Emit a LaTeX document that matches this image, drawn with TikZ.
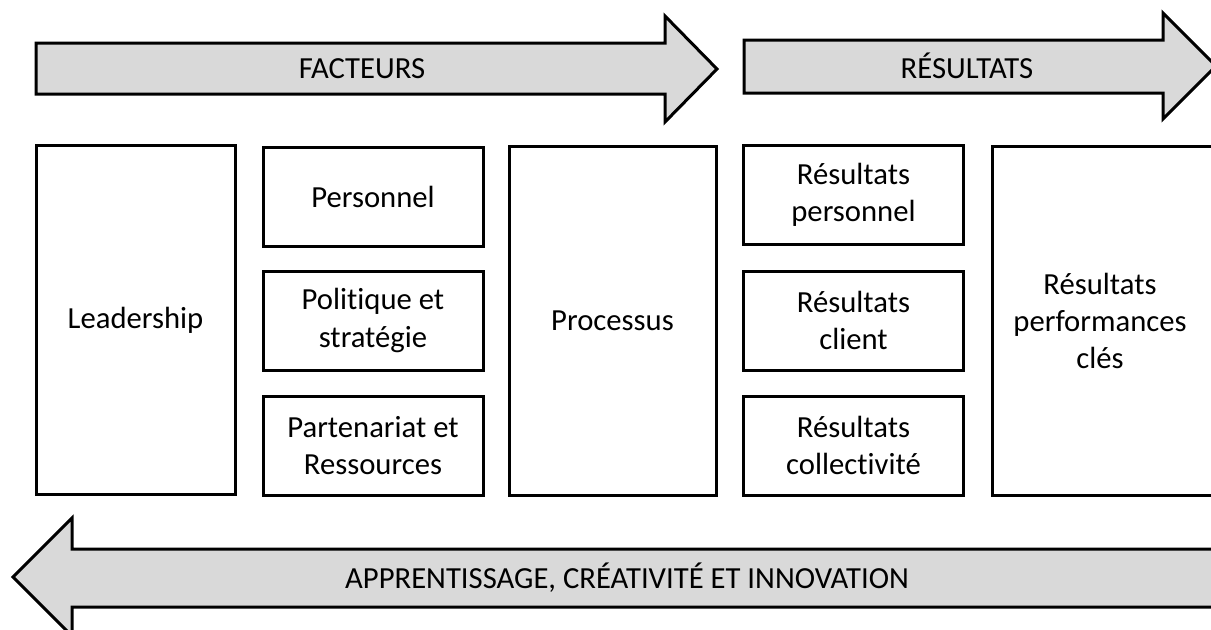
\documentclass[tikz,border=0pt]{standalone}
\usepackage{fontspec}
\setmainfont[Ligatures=NoCommon]{Carlito}
\usepackage{tikz}
\definecolor{arrowgray}{HTML}{D9D9D9}
\tikzset{
  every node/.style = {black, align=center, font=\fontsize{23}{28}\selectfont},
  bigarrow/.style = {draw=black, fill=arrowgray, line width=2.25pt, line join=miter},
  tallbox/.style = {rectangle, draw=black, line width=2.25pt, inner sep=0pt, minimum height=261.75pt},
  smallbox/.style = {rectangle, draw=black, line width=2.25pt, inner sep=0pt, minimum width=165pt, minimum height=74.25pt},
}

\begin{document}
\begin{tikzpicture}[x=0.75pt,y=-0.75pt]
            \useasboundingbox (0,0) rectangle (1211,629);
            \clip (0,0) rectangle (1211,629);
            % arrows on top
            \draw[bigarrow] (36,43) -- (665,43) -- (665,16) -- (717,69)
                -- (665,122) -- (665,94) -- (36,94) -- cycle;
            \node (facteurs) at (362,69) {FACTEURS};
            \draw[bigarrow] (744,40) -- (1163,40) -- (1163,13) -- (1216,66)
                -- (1163,119) -- (1163,93) -- (744,93) -- cycle;
            \node (resultats) at (967,66) {RÉSULTATS};
            % arrow at the bottom
            \draw[bigarrow] (13,577) -- (72,518) -- (72,549) -- (1240,549)
                -- (1240,607) -- (72,607) -- (72,636) -- cycle;
            \node (apprentissage) at (627,578) {APPRENTISSAGE, CRÉATIVITÉ ET INNOVATION};
            % facteurs
            \node[tallbox, minimum width=149.25pt] (leadership) at (135.5,320) {Leadership};
            \node[smallbox] (personnel) at (373,196.5) {Personnel};
            \node[smallbox] (politique) at (373,320.5) {Politique et\\stratégie};
            \node[smallbox] (partenariat) at (373,445.5) {Partenariat et\\Ressources};
            \node[tallbox, minimum width=155.25pt] (processus) at (612.5,321) {Processus};
            % resultats
            \node[smallbox] (respersonnel) at (853.5,194.5) {Résultats\\personnel};
            \node[smallbox] (resclient) at (853.5,320.5) {Résultats\\client};
            \node[smallbox] (rescollectivite) at (853.5,445.5) {Résultats\\collectivité};
            \node[tallbox, minimum width=178.5pt] (resperf) at (1111,321) {};
            \node (resperftext) at (1100,321) {Résultats\\performances\\clés};
\end{tikzpicture}
\end{document}
